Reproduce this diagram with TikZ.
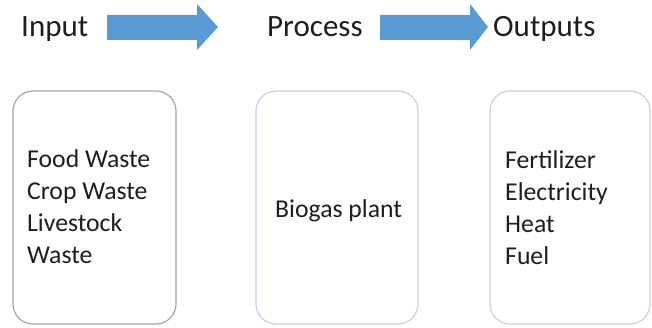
\documentclass[tikz,border=0pt]{standalone}
\usepackage{fontspec}
\setmainfont{Carlito}
\definecolor{arrowblue}{HTML}{5B9BD5}
\definecolor{greyedge}{HTML}{ABA5A5}
\definecolor{blueedge}{HTML}{C3D1E4}
\definecolor{ink}{HTML}{1E1E1E}
\begin{document}
\begin{tikzpicture}[x=1pt,y=-1pt,
  head/.style={anchor=base west,inner sep=0pt,text=ink,font=\fontsize{31}{36}\selectfont},
  line/.style={anchor=base west,inner sep=0pt,text=ink,font=\fontsize{25.7}{32}\selectfont},
  card/.style={draw=#1,line width=1.2pt,rounded corners=20pt,fill=white},
  blockarrow/.style={fill=arrowblue,draw=none}]
\useasboundingbox (0,0) rectangle (652,328);
% headers
\node[head] (input) at (21,37) {Input};
\node[head] (process) at (267,37) {Process};
\node[head] (outputs) at (493,37) {Outputs};
% block arrows
\fill[blockarrow] (107,15) -- (197,15) -- (197,4) -- (218,27) -- (197,50) -- (197,40) -- (107,40) -- cycle;
\fill[blockarrow] (380,15) -- (470,15) -- (470,4) -- (488,27) -- (470,50) -- (470,40) -- (380,40) -- cycle;
% cards
\draw[card=greyedge] (13,91) rectangle (176,324);
\draw[card=blueedge] (256,91) rectangle (418,324);
\draw[card=blueedge] (490,91) rectangle (650,324);
% card texts
\node[line] (in1) at (27,168) {Food Waste};
\node[line] (in2) at (27,200) {Crop Waste};
\node[line] (in3) at (27,232) {Livestock};
\node[line] (in4) at (27,264) {Waste};
\node[line] (pr1) at (275,218) {Biogas plant};
\node[line] (out1) at (505,169) {Fertilizer};
\node[line] (out2) at (505,201) {Electricity};
\node[line] (out3) at (505,233) {Heat};
\node[line] (out4) at (505,265) {Fuel};
\end{tikzpicture}
\end{document}
